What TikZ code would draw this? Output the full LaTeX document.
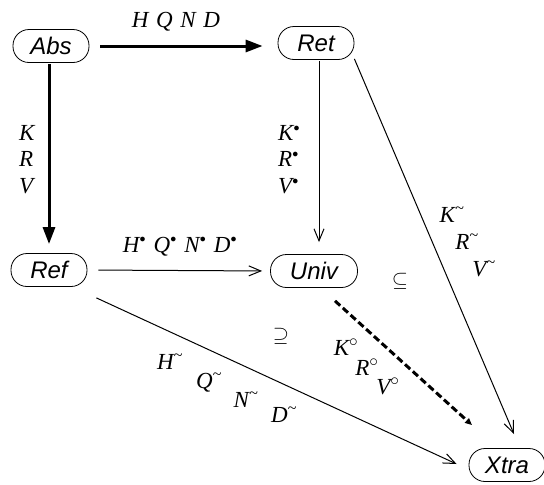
\documentclass[tikz,border=0pt]{standalone}
\usepackage{fontspec}
\setmainfont{Liberation Serif}
\setsansfont{Liberation Sans}
\usetikzlibrary{arrows.meta,calc}
\newcommand{\dotsup}{$^{\scriptscriptstyle\bullet}$}
\tikzset{
  obj/.style={draw, line width=0.8pt, rounded corners=16pt, minimum height=33pt,
    minimum width=76pt, inner xsep=15pt, inner ysep=0pt,
    font=\fontsize{24}{28}\selectfont\sffamily\itshape},
  lbl/.style={font=\fontsize{23}{26.5}\selectfont\itshape, inner sep=0pt},
  stack/.style={lbl, align=left, anchor=north west},
  rel/.style={font=\fontsize{22}{26}\selectfont, inner sep=0pt},
  heavy/.style={line width=3pt, -{Triangle[length=17pt,width=12pt]}},
  light/.style={line width=1pt, -{Straight Barb[length=12pt,width=10pt]}},
  incl/.style={line width=3pt, dash pattern=on 7pt off 3.5pt,
    -{Triangle[length=7pt,width=6pt]}}
}
\begin{document}
\begin{tikzpicture}[x=1pt,y=-1pt]
\useasboundingbox (0,0) rectangle (544,485);

% objects
\node[obj] (Abs)  at (51,46)   {Abs};
\node[obj] (Ret)  at (316,43)  {Ret};
\node[obj] (Ref)  at (49,270)  {Ref};
\node[obj, minimum width=87pt] (Univ) at (314,271) {Univ};
\node[obj] (Xtra) at (507,465) {Xtra};

% morphisms
\draw[heavy, shorten <=11pt, shorten >=15pt] (Abs.east) -- (Ret.west |- Abs.east);
\draw[heavy, shorten <=1pt, shorten >=9pt] ($(Abs.south)+(-2,0)$) -- (Ref.north);
\draw[light, shorten <=1pt, shorten >=12pt] ($(Ret.south)+(3,0)$) -- ($(Univ.north)+(5,0)$);
\draw[light, shorten <=11pt, shorten >=8pt] (Ref.east) -- (Univ.west);
\draw[light] ($(Ret.south east)+(0,-1)$) -- ($(Xtra.north)+(7,-14)$);
\draw[light] ($(Ref.south east)+(9,11)$) -- ($(Xtra.west)+(-12,-1)$);
\draw[incl] ($(Univ.south)+(21,13)$) -- ($(Xtra.north)+(-35,-23)$);

% labels
\node[lbl, anchor=base] (lHQND) at (176,27) {H\,\,Q\,\,N\,\,D};
\node[stack] (lKRV) at (19,125) {K\\R\\V};
\node[stack] (lKRVb) at (278,125) {K\dotsup\\R\dotsup\\V\dotsup};
\node[lbl, anchor=base] (lHQNDb) at (180,252)
  {H\dotsup\,\,Q\dotsup\,\,N\dotsup\,\,D\dotsup};

\node[lbl] (lK1) at (452,215) {K\textsuperscript{\textasciitilde}};
\node[lbl] (lR1) at (467,242) {R\textsuperscript{\textasciitilde}};
\node[lbl] (lV1) at (484,269) {V\textsuperscript{\textasciitilde}};

\node[lbl] (lH2) at (170,362) {H\textsuperscript{\textasciitilde}};
\node[lbl] (lQ2) at (209,383) {Q\textsuperscript{\textasciitilde}};
\node[lbl] (lN2) at (246,400) {N\textsuperscript{\textasciitilde}};
\node[lbl] (lD2) at (284,415) {D\textsuperscript{\textasciitilde}};

\node[lbl] (lK3) at (346,347) {K$^\circ$};
\node[lbl] (lR3) at (367,367) {R$^\circ$};
\node[lbl] (lV3) at (388,386) {V$^\circ$};

\node[rel] (sub) at (400,281) {$\subseteq$};
\node[rel] (sup) at (281,336) {$\supseteq$};
\end{tikzpicture}
\end{document}
